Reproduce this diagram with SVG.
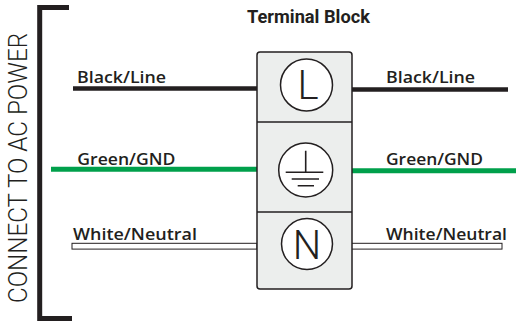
<svg xmlns="http://www.w3.org/2000/svg" width="516" height="324" viewBox="0 0 516 324">
<style>
.lbl{font-family:"Open Sans","Liberation Sans",sans-serif;font-weight:600;font-size:16px;fill:#231f20}
.sym{font-family:Roboto,"Liberation Sans",Arial,sans-serif;font-weight:300;font-size:40px;fill:#231f20;text-anchor:middle}
.cell{fill:#eceeed;stroke:#231f20;stroke-width:1.5}
.ring{fill:#fff;stroke:#231f20;stroke-width:1.5}
.gnd{stroke:#231f20;stroke-width:1.6;fill:none}
</style>
<rect width="516" height="324" fill="#fff"/>
<g id="bracket">
<path d="M69 7.5 H39.7 V318.5 H72" fill="none" stroke="#231f20" stroke-width="5"/>
<text transform="translate(27,168) rotate(-90)" text-anchor="middle" font-family="Roboto,'Liberation Sans',sans-serif" font-weight="300" font-size="26" fill="#231f20" textLength="270" lengthAdjust="spacingAndGlyphs">CONNECT TO AC POWER</text>
</g>
<g id="connectors">
<line x1="73" y1="88.5" x2="258" y2="88.5" stroke="#231f20" stroke-width="4.5"/>
<line x1="351" y1="89.5" x2="508" y2="89.5" stroke="#231f20" stroke-width="4.5"/>
<line x1="51" y1="169.2" x2="258" y2="169.2" stroke="#00a04b" stroke-width="5"/>
<line x1="351" y1="170.8" x2="516" y2="170.8" stroke="#00a04b" stroke-width="5"/>
<rect x="72" y="243.3" width="185" height="5.8" fill="#fff" stroke="#231f20" stroke-width="1"/>
<rect x="351.5" y="243.3" width="150.5" height="5.8" fill="#fff" stroke="#231f20" stroke-width="1"/>
</g>
<g id="labels">
<text class="lbl" x="77" y="83" textLength="89" lengthAdjust="spacingAndGlyphs">Black/Line</text>
<text class="lbl" x="386" y="83" textLength="89" lengthAdjust="spacingAndGlyphs">Black/Line</text>
<text class="lbl" x="77.3" y="165" textLength="98" lengthAdjust="spacingAndGlyphs">Green/GND</text>
<text class="lbl" x="386" y="165" textLength="97" lengthAdjust="spacingAndGlyphs">Green/GND</text>
<text class="lbl" x="73" y="240" textLength="124" lengthAdjust="spacingAndGlyphs">White/Neutral</text>
<text class="lbl" x="386" y="240" textLength="121" lengthAdjust="spacingAndGlyphs">White/Neutral</text>
</g>
<g id="terminal-block">
<text x="247" y="22.5" font-family="Roboto,'Liberation Sans',sans-serif" font-weight="700" font-size="17.5" fill="#231f20" textLength="123" lengthAdjust="spacingAndGlyphs">Terminal Block</text>
<rect class="cell" x="257" y="52" width="95" height="237" rx="3"/>
<line x1="257" y1="122" x2="352" y2="122" stroke="#231f20" stroke-width="1.5"/>
<line x1="257" y1="212" x2="352" y2="212" stroke="#231f20" stroke-width="1.5"/>
</g>
<g id="terminal-L">
<circle class="ring" cx="306.5" cy="85" r="26"/>
<text class="sym" x="308" y="98.7">L</text>
</g>
<g id="terminal-GND">
<circle class="ring" cx="305.7" cy="170" r="27"/>
<path class="gnd" d="M305.7 150.7 V172.3 M285.7 172.3 H323.3 M291.7 179 H319 M297.7 185.7 H314"/>
</g>
<g id="terminal-N">
<circle class="ring" cx="307" cy="244" r="25.5"/>
<text class="sym" x="307" y="259.3">N</text>
</g>
</svg>
